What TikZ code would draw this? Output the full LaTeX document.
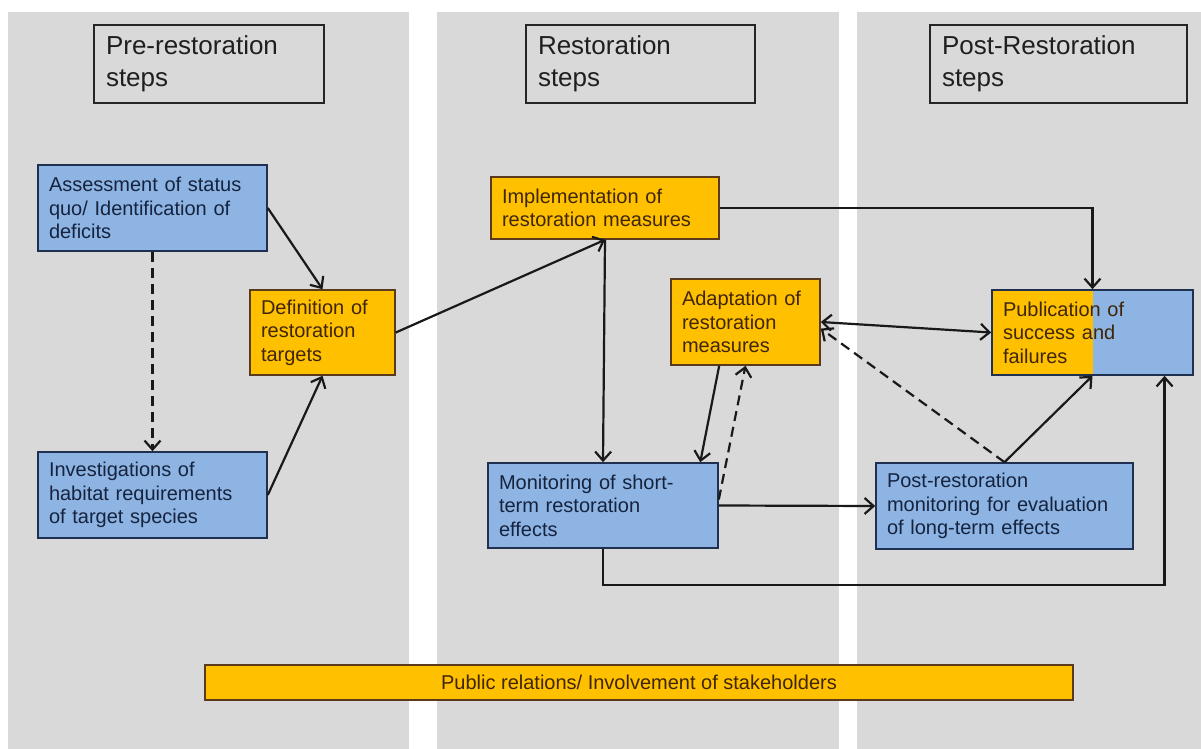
\documentclass[tikz,border=0pt]{standalone}
\usepackage{fontspec}
\setmainfont{Liberation Sans}
\usepackage{xcolor}
\usepackage{tikz}
\usetikzlibrary{arrows.meta,positioning}

\definecolor{panelgray}{HTML}{D9D9D9}
\definecolor{boxblue}{HTML}{8DB4E2}
\definecolor{blueline}{HTML}{1F3050}
\definecolor{boxorange}{HTML}{FFC000}
\definecolor{orangeline}{HTML}{5A3A1C}
\definecolor{bluetext}{HTML}{16233F}
\definecolor{orangetext}{HTML}{3F2608}

\begin{document}
\begin{tikzpicture}[
  x=0.5pt, y=-0.5pt,
  head/.style={draw=black!85, thick, align=left, inner xsep=6pt, minimum height=39pt,
    font=\fontsize{13}{16}\selectfont, text=black!88},
  bluebox/.style={draw=blueline, fill=boxblue, text=bluetext, thick, align=left, inner xsep=5.5pt,
    font=\fontsize{10}{11.75}\selectfont},
  orangebox/.style={draw=orangeline, fill=boxorange, text=orangetext, thick, align=left, inner xsep=5.5pt,
    font=\fontsize{10}{11.75}\selectfont},
  arr/.style={-{Straight Barb[length=4.5pt,width=8pt]}, line width=1.1pt, black!90},
  biarr/.style={arr, {Straight Barb[length=4.5pt,width=8pt]}-{Straight Barb[length=4.5pt,width=8pt]}},
  darr/.style={arr, dash pattern=on 5pt off 3pt}
]
\useasboundingbox (0,0) rectangle (1201,749);

% the three phase panels
\fill[panelgray] (8,12) rectangle (409,749);
\fill[panelgray] (437,12) rectangle (839,749);
\fill[panelgray] (857,12) rectangle (1201,749);

\node[head, text width=103pt] at (209,64) (hpre) {Pre-restoration\\steps};
\node[head, text width=102.5pt] at (640.5,64) (hres) {Restoration\\steps};
\node[head, text width=116.5pt] at (1058.5,64) (hpost) {Post-Restoration\\steps};

% pre-restoration
\node[bluebox, text width=103.5pt, minimum height=43pt] at (152.5,208) (assess) {Assessment of status\\quo/ Identification of\\deficits};
\node[orangebox, text width=61.5pt, minimum height=42.5pt] at (322.5,332.5) (defin) {Definition of\\restoration\\targets};
\node[bluebox, text width=103.5pt, minimum height=43pt] at (152.5,495) (invest) {Investigations of\\habitat requirements\\of target species};

% restoration
\node[orangebox, text width=103pt, minimum height=31pt] at (605,208) (impl) {Implementation of\\restoration measures};
\node[orangebox, text width=63.5pt, minimum height=43pt] at (745.5,322) (adapt) {Adaptation of\\restoration\\measures};
\node[bluebox, text width=104pt, minimum height=42.5pt] at (603,505.5) (monit) {Monitoring of short-\\term restoration\\effects};

% post-restoration
\node[bluebox, text width=117.5pt, minimum height=43pt] at (1004.5,506) (postmon) {Post-restoration\\monitoring for evaluation\\of long-term effects};
\node[draw=blueline, thick, text=orangetext, align=left, inner xsep=5.5pt, text width=89.5pt,
  minimum height=42.5pt, font=\fontsize{10}{11.75}\selectfont,
  path picture={
    \fill[boxblue] (path picture bounding box.south west) rectangle (path picture bounding box.north east);
    \fill[boxorange] (path picture bounding box.south west) rectangle (path picture bounding box.north);
  }] at (1092.5,332.5) (publ) {Publication of\\success and\\failures};

\node[draw=orangeline, fill=boxorange, text=orangetext, thick, minimum width=434pt, minimum height=17.5pt,
  font=\fontsize{10}{12}\selectfont] at (639,682.5) (pr) {Public relations/ Involvement of stakeholders};

\draw[arr] (assess.east) -- (defin.north);
\draw[arr] (invest.east) -- (defin.south);
\draw[darr] (assess.south) -- (invest.north);
\draw[arr] (defin.east) -- (impl.south);
\draw[arr] (impl.south) -- (monit.north);
\draw[arr] (impl.east) -| (publ.north);
\draw[biarr] (adapt.east) -- (publ.west);
\draw[darr] (postmon.north) -- (adapt.-5);
\draw[arr] (postmon.north) -- (publ.south);
\draw[arr] (adapt.239) -- (monit.24);
\draw[darr] (monit.3) -- (adapt.south);
\draw[arr] (monit.east) -- (postmon.west);
\draw[arr] (monit.south) -- ++(0,36) -| (publ.-31);
\end{tikzpicture}
\end{document}
